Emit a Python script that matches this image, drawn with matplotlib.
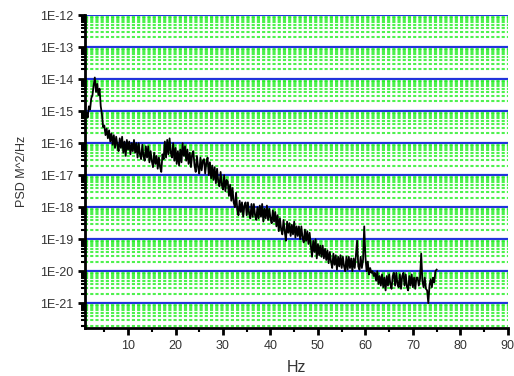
import numpy as np
import matplotlib.pyplot as plt
from matplotlib.ticker import LogLocator, MultipleLocator, NullFormatter

plt.rcParams['font.family'] = ['Liberation Sans', 'DejaVu Sans']

# frequency bins (Hz), 0.25 Hz resolution
freq = np.arange(1.0, 75.01, 0.25)

# log10 of PSD (M^2/Hz), 20 bins (5 Hz) per row
log_psd = [
    -15.25, -15.05, -15.2, -14.85, -14.95, -14.6, -14.5, -14.2, -13.95, -14.4,
    -14.15, -14.5, -14.3, -14.85, -15.1, -15.5, -15.45, -15.75, -15.55, -15.85,
    -15.6, -15.95, -15.7, -16.05, -15.75, -16.15, -15.8, -16.05, -16.25, -15.85,
    -16.15, -15.8, -16.3, -15.95, -16.4, -15.9, -16.2, -15.95, -16.35, -16.0,
    -16.25, -15.9, -16.3, -16.0, -16.45, -16.0, -16.35, -16.5, -16.05, -16.4,
    -16.55, -16.1, -16.45, -16.1, -16.6, -16.25, -16.55, -16.75, -16.3, -16.65,
    -16.4, -16.8, -16.45, -16.75, -16.9, -16.35, -16.5, -15.95, -16.45, -15.9,
    -16.35, -15.85, -16.3, -16.45, -16.0, -16.55, -16.15, -16.65, -16.25, -16.7,
    -16.2, -16.6, -16.0, -16.4, -16.1, -16.55, -16.2, -16.65, -16.3, -16.75,
    -16.35, -16.25, -16.7, -16.9, -16.4, -16.75, -16.95, -16.45, -16.85, -16.55,
    -16.5, -16.95, -16.6, -16.45, -17.0, -16.6, -17.1, -16.7, -17.15, -16.75,
    -17.25, -16.8, -17.2, -17.35, -16.9, -17.3, -17.45, -17.0, -17.5, -17.15,
    -17.2, -17.65, -17.3, -17.8, -17.4, -17.85, -18.0, -17.55, -18.05, -18.25,
    -17.8, -18.15, -17.85, -18.3, -17.95, -17.85, -18.25, -17.85, -18.2, -18.35,
    -17.9, -18.3, -17.9, -18.25, -18.4, -18.0, -18.35, -17.95, -18.3, -17.9,
    -18.45, -18.05, -18.35, -17.95, -18.4, -18.05, -18.35, -18.5, -18.1, -18.45,
    -18.15, -18.6, -18.25, -18.75, -18.35, -18.7, -18.85, -18.4, -18.75, -19.05,
    -18.45, -18.8, -18.5, -18.9, -18.55, -18.85, -18.45, -18.95, -18.6, -18.9,
    -18.6, -19.0, -18.6, -18.95, -19.1, -18.7, -19.05, -18.75, -19.15, -18.8,
    -19.2, -19.55, -19.05, -19.4, -19.0, -19.6, -19.15, -19.5, -19.2, -19.55,
    -19.2, -19.6, -19.3, -19.65, -19.35, -19.75, -19.4, -19.7, -19.9, -19.45,
    -19.8, -19.5, -19.95, -19.55, -19.85, -19.5, -19.9, -19.55, -19.85, -20.0,
    -19.55, -19.95, -19.55, -19.9, -19.6, -20.0, -19.6, -19.9, -19.5, -19.05,
    -19.85, -19.95, -19.55, -19.9, -19.65, -18.6, -19.55, -20.0, -19.7, -20.1,
    -19.9, -20.05, -20.0, -20.15, -20.05, -20.3, -20.0, -20.4, -20.15, -20.45,
    -20.1, -20.5, -20.2, -20.6, -20.15, -20.45, -20.1, -20.4, -20.55, -20.15,
    -20.05, -20.45, -20.05, -20.4, -20.5, -20.1, -20.55, -20.15, -20.05, -20.45,
    -20.1, -20.5, -20.6, -20.15, -20.45, -20.1, -20.5, -20.2, -20.55, -20.2,
    -20.2, -20.45, -20.25, -19.45, -20.3, -20.5, -20.2, -20.55, -20.6, -21.0,
    -20.45, -20.25, -20.5, -20.2, -20.35, -20.0, -19.95,
]

x_ticks = [10, 20, 30, 40, 50, 60, 70, 80, 90]
y_ticks = [1e-21, 1e-20, 1e-19, 1e-18, 1e-17, 1e-16, 1e-15, 1e-14, 1e-13, 1e-12]
y_labels = ['1E-21', '1E-20', '1E-19', '1E-18', '1E-17', '1E-16',
            '1E-15', '1E-14', '1E-13', '1E-12']

fig = plt.figure(figsize=(5.14, 3.76), dpi=100)
ax = fig.add_axes([0.166, 0.128, 0.822, 0.832])

psd = 10.0 ** np.array(log_psd)
ax.plot(freq, psd, color='black', lw=1.3, zorder=5)

ax.set_yscale('log')
ax.set_xlim(1, 90)
ax.set_ylim(1.7e-22, 1e-12)

ax.set_xticks(x_ticks)
ax.xaxis.set_minor_locator(MultipleLocator(5))
ax.set_yticks(y_ticks)
ax.set_yticklabels(y_labels)
ax.yaxis.set_minor_locator(LogLocator(base=10, subs=np.arange(2, 10), numticks=30))
ax.yaxis.set_minor_formatter(NullFormatter())

# grid: blue decades, dotted green minors
ax.grid(True, which='major', axis='y', color='#2233dd', lw=1.6, zorder=1)
ax.grid(True, which='minor', axis='y', color='#22ee22', lw=1.5,
        linestyle=(0, (1.5, 1)), alpha=0.8, zorder=1)
ax.set_axisbelow(True)

for s in ['top', 'right']:
    ax.spines[s].set_visible(False)
for s in ['left', 'bottom']:
    ax.spines[s].set_linewidth(2)

ax.tick_params(which='major', direction='out', length=5, width=2,
               labelsize=9, labelcolor='#333333')
ax.tick_params(which='minor', direction='out', length=3, width=1.5)

ax.set_xlabel('Hz', fontsize=11.5, color='#333333', labelpad=6)
ax.set_ylabel('PSD M^2/Hz', fontsize=9, color='#333333', labelpad=9)

fig.savefig('out.png', dpi=100)
